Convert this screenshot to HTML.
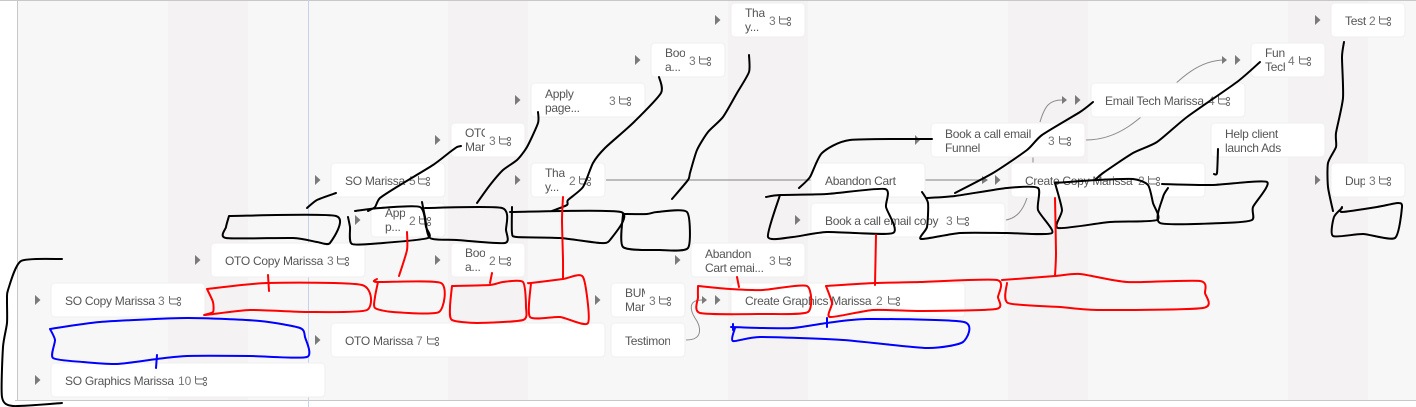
<!DOCTYPE html>
<html><head><meta charset="utf-8"><style>
html,body{margin:0;padding:0;background:#fff}
svg{display:block}
text{font-family:"Liberation Sans",sans-serif;font-size:12px;fill:#555;letter-spacing:-.28px}
.c{fill:#777;letter-spacing:0}
.n{fill:#fff;stroke:#f0efef;stroke-width:1}
.t{fill:#7a7a7a}
.k,.r,.b{fill:none;stroke-width:2;stroke-linejoin:round;stroke-linecap:round}
.k{stroke:#000}.r{stroke:#f00}.b{stroke:#00f}
.g{fill:none;stroke:#8c8c8c;stroke-width:1}
.i{fill:none;stroke:#6e6e6e;stroke-width:1}
</style></head><body>
<svg id="d" width="1416" height="407" viewBox="0 0 1416 407" xmlns="http://www.w3.org/2000/svg">
<defs>
<symbol id="ic" overflow="visible"><path class="i" d="M.5 0V6q0 2 2 2H8M.5 3H8"/><circle class="i" cx="10" cy="3" r="1.6"/><circle class="i" cx="10" cy="8" r="1.6"/></symbol>
<symbol id="tr" overflow="visible"><path class="t" d="M0 0L5.5 5L0 10Z"/></symbol>
</defs>
<rect width="1416" height="407" fill="#f8f7f7"/>
<rect x="0" width="17" height="407" fill="#fff"/>
<g fill="#f4f2f3">
<rect x="168" width="80" height="400"/><rect x="448" width="80" height="400"/><rect x="728" width="80" height="400"/><rect x="1008" width="80" height="400"/><rect x="1288" width="80" height="400"/>
</g>
<rect y="400" x="15" width="1401" height="7" fill="#fff"/>
<rect y="0" width="1416" height="1" fill="#c8c8c8"/>
<rect x="17" y="0" width="1" height="400" fill="#c8c8c8"/>
<rect x="15" y="400" width="1401" height="1" fill="#c8c8c8"/>
<rect x="308" y="0" width="1" height="407" fill="#c5d3e8"/>

<!-- connectors -->
<path d="M606 180H984" stroke="#a8a8a8" stroke-width="1.5" fill="none"/>
<path class="g" d="M686 340C705 340 700 325 695 318C690 310 688 300 702 300"/>
<path class="g" d="M1006 220C1017 218 1023 210 1027 198"/>
<path class="g" d="M1040 122C1045 105 1050 100 1062 100"/>
<path class="g" d="M1086 140C1150 140 1170 60 1225 60"/>
<path class="g" d="M1033 157V163"/>
<path class="t" d="M982 176L988 180L982 184Z"/>
<path class="t" d="M702 296L707 300L702 304Z"/>
<path class="t" d="M1062 96L1067 100L1062 104Z"/>
<path class="t" d="M1222 56L1227 60L1222 64Z"/>
<path class="t" d="M915 135L920 140L915 145Z"/>

<!-- nodes -->
<rect class="n" x="1331" y="3" width="74" height="34" rx="4"/>
<rect class="n" x="731" y="3" width="74" height="34" rx="4"/>
<rect class="n" x="651" y="43" width="74" height="34" rx="4"/>
<rect class="n" x="1251" y="43" width="74" height="34" rx="4"/>
<rect class="n" x="531" y="83" width="114" height="34" rx="4"/>
<rect class="n" x="1091" y="83" width="154" height="34" rx="4"/>
<rect class="n" x="451" y="123" width="74" height="34" rx="4"/>
<rect class="n" x="931" y="123" width="154" height="34" rx="4"/>
<rect class="n" x="1211" y="123" width="114" height="34" rx="4"/>
<rect class="n" x="331" y="163" width="114" height="34" rx="4"/>
<rect class="n" x="531" y="163" width="74" height="34" rx="4"/>
<rect class="n" x="811" y="163" width="114" height="34" rx="4"/>
<rect class="n" x="1011" y="163" width="194" height="34" rx="4"/>
<rect class="n" x="1331" y="163" width="74" height="34" rx="4"/>
<rect class="n" x="371" y="203" width="74" height="34" rx="4"/>
<rect class="n" x="811" y="203" width="194" height="34" rx="4"/>
<rect class="n" x="211" y="243" width="154" height="34" rx="4"/>
<rect class="n" x="451" y="243" width="74" height="34" rx="4"/>
<rect class="n" x="691" y="243" width="114" height="34" rx="4"/>
<rect class="n" x="51" y="283" width="154" height="34" rx="4"/>
<rect class="n" x="611" y="283" width="74" height="34" rx="4"/>
<rect class="n" x="731" y="283" width="234" height="34" rx="4"/>
<rect class="n" x="331" y="323" width="274" height="34" rx="4"/>
<rect class="n" x="611" y="323" width="74" height="34" rx="4"/>
<rect class="n" x="51" y="363" width="274" height="34" rx="4"/>

<!-- triangles -->
<use href="#tr" x="1315" y="15"/><use href="#tr" x="715" y="15"/><use href="#tr" x="635" y="55"/><use href="#tr" x="1235" y="55"/>
<use href="#tr" x="515" y="95"/><use href="#tr" x="1075" y="95"/><use href="#tr" x="435" y="135"/>
<use href="#tr" x="315" y="175"/><use href="#tr" x="515" y="175"/><use href="#tr" x="995" y="175"/><use href="#tr" x="1315" y="175"/>
<use href="#tr" x="355" y="215"/><use href="#tr" x="795" y="215"/><use href="#tr" x="195" y="255"/><use href="#tr" x="435" y="255"/><use href="#tr" x="675" y="255"/>
<use href="#tr" x="35" y="295"/><use href="#tr" x="595" y="295"/><use href="#tr" x="715" y="295"/><use href="#tr" x="315" y="335"/><use href="#tr" x="35" y="375"/>

<!-- labels -->
<text x="1345" y="25">Test</text><text class="c" x="1369" y="25">2</text><use href="#ic" x="1379" y="16"/>
<svg x="745" y="3" width="20" height="34"><text x="0" y="14">Tha</text><text x="0" y="28">y...</text></svg><text class="c" x="769" y="25">3</text><use href="#ic" x="779" y="16"/>
<svg x="665" y="43" width="20" height="34"><text x="0" y="14">Boo</text><text x="0" y="28">a...</text></svg><text class="c" x="689" y="65">3</text><use href="#ic" x="699" y="56"/>
<svg x="1265" y="43" width="20" height="34"><text x="0" y="14">Funnel</text><text x="0" y="28">Tech</text></svg><text class="c" x="1288" y="65">4</text><use href="#ic" x="1299" y="56"/>
<text x="545" y="98">Apply</text><text x="545" y="112">page...</text><text class="c" x="609" y="105">3</text><use href="#ic" x="619" y="96"/>
<text x="1105" y="105">Email Tech Marissa</text><text class="c" x="1208" y="105">4</text><use href="#ic" x="1218" y="96"/>
<svg x="465" y="123" width="20" height="34"><text x="0" y="14">OTO</text><text x="0" y="28">Marissa</text></svg><text class="c" x="489" y="145">3</text><use href="#ic" x="499" y="136"/>
<text x="945" y="138">Book a call email</text><text x="945" y="152">Funnel</text><text class="c" x="1048" y="145">3</text><use href="#ic" x="1059" y="136"/>
<text x="1225" y="138">Help client</text><text x="1225" y="152">launch Ads</text>
<text x="345" y="185">SO Marissa</text><text class="c" x="409" y="185">5</text><use href="#ic" x="418" y="176"/>
<svg x="545" y="163" width="20" height="34"><text x="0" y="14">Tha</text><text x="0" y="28">y...</text></svg><text class="c" x="569" y="185">2</text><use href="#ic" x="579" y="176"/>
<text x="825" y="185">Abandon Cart</text>
<text x="1025" y="185">Create Copy Marissa</text><text class="c" x="1138" y="185">2</text><use href="#ic" x="1148" y="176"/>
<svg x="1345" y="163" width="20" height="34"><text x="0" y="22">Duplicate</text></svg><text class="c" x="1369" y="185">3</text><use href="#ic" x="1379" y="176"/>
<svg x="385" y="203" width="20" height="34"><text x="0" y="14">Apply</text><text x="0" y="28">p...</text></svg><text class="c" x="409" y="225">2</text><use href="#ic" x="419" y="216"/>
<text x="825" y="225">Book a call email copy</text><text class="c" x="946" y="225">3</text><use href="#ic" x="957" y="216"/>
<text x="225" y="265">OTO Copy Marissa</text><text class="c" x="327" y="265">3</text><use href="#ic" x="337" y="256"/>
<svg x="465" y="243" width="20" height="34"><text x="0" y="14">Boo</text><text x="0" y="28">a...</text></svg><text class="c" x="489" y="265">2</text><use href="#ic" x="499" y="256"/>
<text x="705" y="258">Abandon</text><text x="705" y="272">Cart emai...</text><text class="c" x="769" y="265">3</text><use href="#ic" x="779" y="256"/>
<text x="65" y="305">SO Copy Marissa</text><text class="c" x="158" y="305">3</text><use href="#ic" x="169" y="296"/>
<svg x="625" y="283" width="20" height="34"><text x="0" y="14">BUMP</text><text x="0" y="28">Marissa</text></svg><text class="c" x="649" y="305">3</text><use href="#ic" x="659" y="296"/>
<text x="745" y="305">Create Graphics Marissa</text><text class="c" x="876" y="305">2</text><use href="#ic" x="888" y="296"/>
<text x="345" y="345">OTO Marissa</text><text class="c" x="416" y="345">7</text><use href="#ic" x="427" y="336"/>
<svg x="625" y="323" width="45" height="34"><text x="0" y="22">Testimonials</text></svg>
<text x="65" y="385">SO Graphics Marissa</text><text class="c" x="178" y="385">10</text><use href="#ic" x="195" y="376"/>

<!-- black ink -->
<polyline class="k" points="62,259 21,261 8,290 7,300 7,323 3,347 2,397 13,406 62,403"/>
<polyline class="k" points="229,216 336,216 330,243 317,242 293,238 226,238 226,227 229,216"/>
<polyline class="k" points="307,208 317,200 336,193"/>
<polyline class="k" points="368,211 375,207 380,198 400,185 433,165 450,152 457,147 461,146"/>
<polyline class="k" points="355,211 380,208 420,207 426,227 428,238 383,243 352,244 350,227 348,217"/>
<polyline class="k" points="422,202 425,217 430,238 457,240 505,243 506,230 502,208 425,208"/>
<polyline class="k" points="538,112 538,123 527,147 517,160 503,170 490,185 477,203"/>
<polyline class="k" points="512,207 512,233 517,237 560,238 600,243 610,240 621,212 510,212"/>
<polyline class="k" points="623,214 647,214 657,212 687,212 688,248 660,250 623,247 623,214"/>
<polyline class="k" points="659,77 661,93 633,123 605,148 593,163 583,187 568,200 567,205 552,211"/>
<polyline class="k" points="749,55 749,72 737,93 723,117 708,132 697,150 690,173 688,180 672,199"/>
<polyline class="k" points="799,188 810,177 822,153 850,140 932,139"/>
<polyline class="k" points="766,197 780,195 827,194 885,189 886,207 893,233 827,232 793,237 768,237 780,195"/>
<polyline class="k" points="922,192 928,203 927,227 921,239 960,233 1007,233 1052,233 1038,210 1038,188 1007,188 955,196 927,198"/>
<polyline class="k" points="955,193 993,173 1027,150 1042,135 1080,112 1093,102"/>
<polyline class="k" points="1055,183 1097,180 1133,179 1148,185 1153,203 1157,220 1110,222 1058,228 1062,210 1055,183"/>
<polyline class="k" points="1095,180 1103,173 1133,153 1157,142 1187,117 1237,82 1260,62"/>
<polyline class="k" points="1162,184 1213,185 1267,182 1253,207 1252,220 1223,223 1160,223 1163,197 1168,188"/>
<polyline class="k" points="1218,149 1217,173 1214,174"/>
<polyline class="k" points="1344,42 1342,57 1343,98 1336,133 1336,147 1328,163 1328,187 1333,211"/>
<polyline class="k" points="1342,207 1342,212 1377,207 1398,203 1402,207 1395,238 1363,234 1333,236 1334,217 1342,208"/>

<!-- red ink -->
<polyline class="r" points="207,289 267,283 362,285 367,310 307,312 250,310 205,315 213,312 213,302 207,289"/>
<polyline class="r" points="268,275 269,291"/>
<polyline class="r" points="377,279 377,282 441,283 439,312 393,312 375,308 375,297 378,282"/>
<polyline class="r" points="407,232 407,250 399,276"/>
<polyline class="r" points="452,286 490,285 503,282 523,282 526,307 523,320 477,323 452,320 450,307 452,286"/>
<polyline class="r" points="492,273 490,283"/>
<polyline class="r" points="528,283 531,283 563,279 583,277 588,323 560,317 530,317 531,283"/>
<polyline class="r" points="563,197 562,220 563,260 563,279"/>
<polyline class="r" points="698,286 730,289 763,290 807,286 808,312 763,314 700,313 698,297 698,286"/>
<polyline class="r" points="737,277 739,287"/>
<polyline class="r" points="826,286 875,283 920,282 997,280 998,297 996,309 920,311 873,310 830,317 832,303 826,286"/>
<polyline class="r" points="876,235 875,285"/>
<polyline class="r" points="1002,280 1055,276 1080,274 1127,282 1200,281 1205,293 1203,308 1100,310 1060,307 1008,303 1007,283"/>
<polyline class="r" points="1055,198 1056,253 1055,276"/>

<!-- blue ink -->
<polyline class="b" points="50,329 100,322 187,318 260,321 300,328 305,337 307,357 250,356 187,356 157,359 117,364 83,362 53,358 55,340 50,329"/>
<polyline class="b" points="157,355 156,368"/>
<polyline class="b" points="731,327 760,328 793,328 827,323 867,319 964,322 963,342 927,348 843,340 760,337 733,341 735,328"/>
<polyline class="b" points="827,318 827,327"/>
<polyline class="b" points="733,324 733,330"/>
</svg>
<script>
document.querySelectorAll('#d polyline').forEach(function(e){
  var p=e.getAttribute('points').trim().split(/\s+/).map(function(s){return s.split(',').map(Number)});
  var d='M'+p[0][0]+' '+p[0][1],f=.11;
  for(var i=0;i<p.length-1;i++){
    var a=p[Math.max(i-1,0)],b=p[i],c=p[i+1],g=p[Math.min(i+2,p.length-1)];
    d+='C'+(b[0]+(c[0]-a[0])*f)+' '+(b[1]+(c[1]-a[1])*f)+' '+(c[0]-(g[0]-b[0])*f)+' '+(c[1]-(g[1]-b[1])*f)+' '+c[0]+' '+c[1];
  }
  var n=document.createElementNS('http://www.w3.org/2000/svg','path');
  n.setAttribute('class',e.getAttribute('class'));n.setAttribute('d',d);
  e.parentNode.replaceChild(n,e);
});
</script>
</body></html>
